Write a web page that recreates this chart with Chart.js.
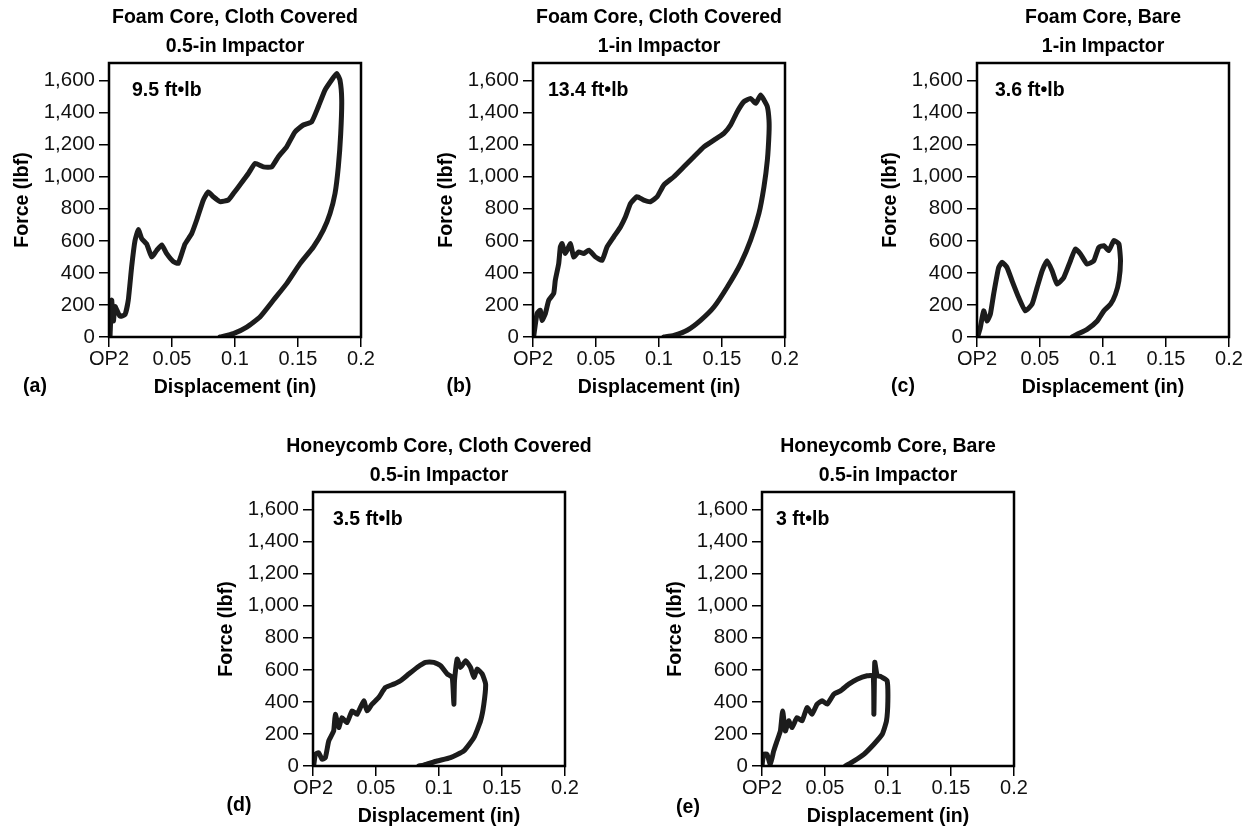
<!DOCTYPE html>
<html>
<head>
<meta charset="utf-8">
<script src="https://cdn.jsdelivr.net/npm/chart.js@4.4.0/dist/chart.umd.min.js"></script>
<style>
    html, body { margin: 0; padding: 0; background: #fff; }
    #wrap { position: relative; width: 1252px; height: 831px; overflow: hidden; }
    .panel { position: absolute; }
</style>
</head>
<body>
<div id="wrap"></div>
<script>
// Tick values shared by all five panels
const X_TICKS = [0, 0.05, 0.1, 0.15, 0.2];
const Y_TICKS = [0, 200, 400, 600, 800, 1000, 1200, 1400, 1600];

// (a) Foam core, cloth covered, 0.5-in impactor
const dispA = [0.0008, 0.0021, 0.0035, 0.0048, 0.0087, 0.0127, 0.0153, 0.018, 0.0206, 0.0233, 0.0259, 0.0299, 0.0339, 0.0378, 0.0418, 0.0458, 0.0511, 0.055, 0.0603, 0.0656, 0.0696, 0.0749, 0.0788, 0.0828, 0.0881, 0.0947, 0.0987, 0.104, 0.1106, 0.1159, 0.1225, 0.1291, 0.1344, 0.141, 0.1476, 0.1542, 0.1608, 0.1661, 0.1714, 0.1767, 0.1807, 0.1833, 0.1847,
               0.1839, 0.182, 0.1794, 0.1754, 0.1701, 0.1622, 0.1516, 0.141, 0.1304, 0.1198, 0.1093, 0.0987, 0.0881];
const forceA = [0, 230, 100, 190, 130, 140, 230, 440, 600, 670, 615, 580, 500, 540, 575, 520, 470, 460, 580, 645, 730, 855, 905, 875, 845, 855, 895, 950, 1020, 1083, 1062, 1062, 1125, 1187, 1280, 1323, 1343, 1437, 1541, 1604, 1645, 1604, 1479,
                1270, 1062, 896, 771, 667, 562, 458, 333, 229, 125, 62, 21, 0];

// (b) Foam core, cloth covered, 1-in impactor
const dispB = [0.0005, 0.0032, 0.0058, 0.0072, 0.0098, 0.0125, 0.0164, 0.0177, 0.0204, 0.0217, 0.023, 0.0257, 0.0297, 0.0323, 0.0363, 0.0403, 0.0443, 0.0495, 0.0548, 0.0588, 0.0641, 0.0694, 0.0734, 0.0774, 0.0826, 0.0879, 0.0932, 0.0985, 0.1038, 0.1118, 0.1197, 0.1277, 0.1356, 0.1436, 0.1515, 0.1568, 0.1621, 0.1674, 0.1727, 0.1767, 0.1807, 0.1833, 0.186, 0.1873,
               0.1873, 0.186, 0.1833, 0.1793, 0.1727, 0.1648, 0.1542, 0.1436, 0.133, 0.1224, 0.1118, 0.1038];
const forceB = [0, 146, 167, 104, 146, 229, 271, 354, 458, 562, 583, 521, 583, 500, 531, 521, 542, 500, 479, 562, 625, 687, 750, 833, 875, 854, 844, 875, 948, 1000, 1062, 1125, 1187, 1229, 1271, 1323, 1406, 1469, 1489, 1458, 1510, 1479, 1437, 1354,
                1271, 1104, 937, 771, 604, 458, 312, 187, 104, 42, 10, 0];

// (c) Foam core, bare, 1-in impactor
const dispC = [0.0005, 0.0026, 0.0053, 0.0079, 0.0106, 0.0132, 0.0172, 0.0199, 0.0238, 0.0278, 0.0331, 0.0384, 0.0437, 0.0477, 0.0517, 0.0556, 0.0596, 0.0636, 0.0689, 0.0742, 0.0781, 0.0821, 0.0874, 0.0927, 0.0967, 0.1007, 0.1046, 0.1086, 0.1126, 0.1139,
               0.1126, 0.1099, 0.106, 0.1007, 0.0954, 0.0874, 0.0795, 0.0755];
const forceC = [0, 58, 163, 100, 142, 267, 434, 466, 434, 351, 246, 163, 205, 309, 413, 476, 413, 330, 372, 476, 549, 518, 455, 476, 560, 570, 539, 602, 581, 476,
                351, 267, 205, 163, 100, 48, 17, 0];

// (d) Honeycomb core, cloth covered, 0.5-in impactor
const dispD = [0.0005, 0.0019, 0.0045, 0.0072, 0.0098, 0.0125, 0.0164, 0.0177, 0.0204, 0.023, 0.027, 0.031, 0.035, 0.0403, 0.0429, 0.0469, 0.0522, 0.0575, 0.0641, 0.0694, 0.076, 0.0826, 0.0893, 0.0959, 0.1012, 0.1065, 0.1105, 0.1118, 0.1123, 0.1144, 0.1171, 0.1211, 0.125, 0.1277, 0.1303, 0.1343, 0.137,
               0.1356, 0.133, 0.1277, 0.1197, 0.1091, 0.0985, 0.0879, 0.084];
const forceD = [0, 73, 83, 42, 52, 156, 219, 323, 240, 302, 271, 344, 323, 407, 344, 386, 428, 490, 511, 532, 574, 615, 647, 647, 626, 574, 553, 386, 532, 667, 615, 657, 615, 553, 605, 574, 511,
                386, 282, 177, 94, 52, 31, 6, 0];

// (e) Honeycomb core, bare, 0.5-in impactor
const dispE = [0, 0.0013, 0.004, 0.0066, 0.0093, 0.0119, 0.0146, 0.0164, 0.0185, 0.0212, 0.0238, 0.0278, 0.0318, 0.0358, 0.0397, 0.0437, 0.0477, 0.0517, 0.057, 0.0623, 0.0689, 0.0755, 0.0834, 0.0882, 0.0888, 0.0895, 0.0914, 0.094, 0.0954, 0.0993,
               0.0999, 0.0988, 0.0954, 0.0888, 0.0808, 0.0728, 0.0662];
const forceE = [0, 73, 73, 10, 94, 156, 219, 344, 219, 282, 240, 302, 282, 365, 323, 386, 407, 386, 448, 469, 511, 542, 563, 563, 323, 647, 563, 560, 553, 532,
                407, 282, 198, 136, 73, 31, 0];

const panelTitles = [
    ['Foam Core, Cloth Covered', '0.5-in Impactor'],
    ['Foam Core, Cloth Covered', '1-in Impactor'],
    ['Foam Core, Bare', '1-in Impactor'],
    ['Honeycomb Core, Cloth Covered', '0.5-in Impactor'],
    ['Honeycomb Core, Bare', '0.5-in Impactor']
];
const panelEnergies = ['9.5 ft\u2022lb', '13.4 ft\u2022lb', '3.6 ft\u2022lb', '3.5 ft\u2022lb', '3 ft\u2022lb'];
const panelLetters = ['(a)', '(b)', '(c)', '(d)', '(e)'];
const panelX = [dispA, dispB, dispC, dispD, dispE];
const panelY = [forceA, forceB, forceC, forceD, forceE];

// Layout (kept apart from the data)
const CANVAS_W = 410, CANVAS_H = 400;
const AREA = { left: 109, top: 63, right: 49, bottom: 63 };
const panelPos = [
    { left: 0, top: 0, energyDx: 23, letterDy: 50 },
    { left: 424, top: 0, energyDx: 15, letterDy: 50 },
    { left: 868, top: 0, energyDx: 18, letterDy: 50 },
    { left: 204, top: 429, energyDx: 20, letterDy: 40 },
    { left: 653, top: 429, energyDx: 14, letterDy: 42 }
];

const FONT = "'Liberation Sans', Arial, Helvetica, sans-serif";
const INK = '#000';

// Draws the box around the plot plus titles and annotations
const panelTextPlugin = {
    id: 'panelText',
    afterDraw(chart, args, opts) {
        const { ctx, chartArea: a } = chart;
        ctx.save();
        ctx.strokeStyle = INK;
        ctx.lineWidth = 2.5;
        ctx.strokeRect(a.left, a.top, a.right - a.left, a.bottom - a.top);

        ctx.fillStyle = INK;
        ctx.font = `bold 19.5px ${FONT}`;
        ctx.textBaseline = 'middle';
        ctx.textAlign = 'center';
        const cx = (a.left + a.right) / 2;
        ctx.fillText(opts.title[0], cx, a.top - 45);
        ctx.fillText(opts.title[1], cx, a.top - 16);

        ctx.textAlign = 'left';
        ctx.fillText(opts.energy, a.left + opts.energyDx, a.top + 28);

        ctx.textAlign = 'center';
        ctx.fillText(opts.letter, a.left - 74, a.bottom + opts.letterDy);
        ctx.restore();
    }
};

const wrap = document.getElementById('wrap');

panelPos.forEach((pos, i) => {
    const canvas = document.createElement('canvas');
    canvas.className = 'panel';
    canvas.width = CANVAS_W;
    canvas.height = CANVAS_H;
    canvas.style.left = pos.left + 'px';
    canvas.style.top = pos.top + 'px';
    canvas.style.width = CANVAS_W + 'px';
    canvas.style.height = CANVAS_H + 'px';
    wrap.appendChild(canvas);

    const points = panelX[i].map((x, k) => ({ x, y: panelY[i][k] }));

    new Chart(canvas.getContext('2d'), {
        type: 'scatter',
        data: {
            datasets: [{
                data: points,
                showLine: true,
                borderColor: '#1c1c1c',
                borderWidth: 5,
                pointRadius: 0,
                tension: 0.15,
                borderCapStyle: 'round',
                borderJoinStyle: 'round'
            }]
        },
        plugins: [panelTextPlugin],
        options: {
            responsive: false,
            animation: false,
            layout: { padding: { left: 0, top: AREA.top, right: AREA.right, bottom: 0 } },
            plugins: {
                legend: { display: false },
                tooltip: { enabled: false },
                panelText: {
                    title: panelTitles[i],
                    energy: panelEnergies[i],
                    letter: panelLetters[i],
                    energyDx: pos.energyDx,
                    letterDy: pos.letterDy
                }
            },
            scales: {
                x: {
                    type: 'linear',
                    min: 0,
                    max: 0.2,
                    afterBuildTicks: s => { s.ticks = X_TICKS.map(v => ({ value: v })); },
                    afterFit: s => { s.height = AREA.bottom; },
                    grid: { drawOnChartArea: false, drawTicks: true, tickLength: 10, color: INK, lineWidth: 1.5 },
                    border: { display: false },
                    ticks: {
                        color: '#111',
                        font: { family: FONT, size: 20 },
                        padding: 0,
                        maxRotation: 0,
                        autoSkip: false,
                        callback: v => (v === 0 ? 'OP2' : String(v))
                    },
                    title: {
                        display: true,
                        text: 'Displacement (in)',
                        color: INK,
                        font: { family: FONT, size: 19.5, weight: 'bold' },
                        padding: { top: 0, bottom: 1 }
                    }
                },
                y: {
                    type: 'linear',
                    min: 0,
                    max: 1710,
                    afterBuildTicks: s => { s.ticks = Y_TICKS.map(v => ({ value: v })); },
                    afterFit: s => { s.width = AREA.left; },
                    grid: { drawOnChartArea: false, drawTicks: true, tickLength: 10, color: INK, lineWidth: 1.5 },
                    border: { display: false },
                    ticks: {
                        color: '#111',
                        font: { family: FONT, size: 20.5 },
                        padding: 4,
                        autoSkip: false,
                        callback: v => v.toLocaleString('en-US')
                    },
                    title: {
                        display: true,
                        text: 'Force (lbf)',
                        color: INK,
                        font: { family: FONT, size: 19.5, weight: 'bold' },
                        padding: { top: 11, bottom: 0 }
                    }
                }
            }
        }
    });
});
</script>
</body>
</html>
